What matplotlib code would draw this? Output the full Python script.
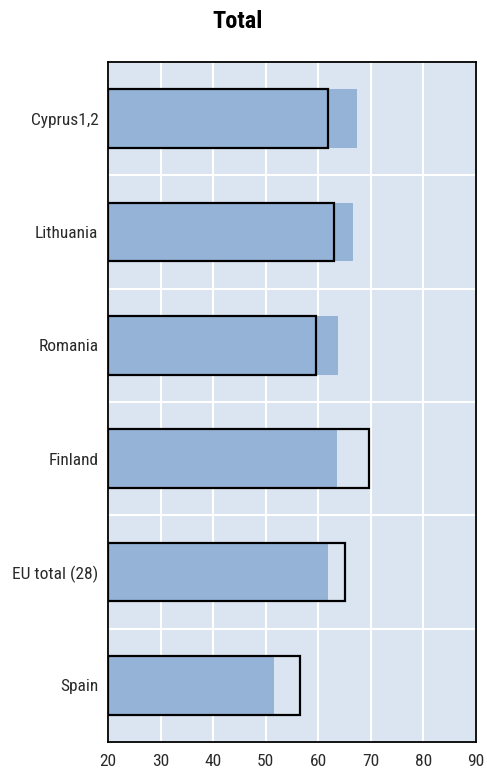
import matplotlib
matplotlib.use("Agg")
import matplotlib.pyplot as plt
import numpy as np

plt.rcParams['font.family'] = ['Roboto Condensed', 'Liberation Sans', 'DejaVu Sans']

categories = ["Cyprus1,2", "Lithuania", "Romania", "Finland", "EU total (28)", "Spain"]
filled_values = [67.4, 66.6, 63.75, 63.6, 61.8, 51.6]
outline_values = [61.8, 62.9, 59.6, 69.6, 65.0, 56.5]
x_ticks = [20, 30, 40, 50, 60, 70, 80, 90]
title = "Total"

W, H = 487, 772
fig = plt.figure(figsize=(W / 100, H / 100), dpi=100)
ax = fig.add_axes([108 / W, 1 - 742 / H, (476 - 108) / W, (742 - 62) / H])
ax.set_facecolor('#DBE5F1')

y = np.arange(len(categories))
left = x_ticks[0]
ax.barh(y, np.array(filled_values) - left, left=left, height=0.52,
        color='#95B3D7', edgecolor='none', zorder=2)
ax.barh(y, np.array(outline_values) - left, left=left, height=0.52,
        facecolor='none', edgecolor='black', linewidth=1.6, zorder=3)

ax.set_xlim(x_ticks[0], x_ticks[-1])
ax.set_ylim(len(categories) - 0.5, -0.5)
ax.set_xticks(x_ticks)
ax.set_xticklabels([str(t) for t in x_ticks])
ax.set_yticks(y)
ax.set_yticklabels(categories)
ax.set_yticks(np.arange(len(categories) + 1) - 0.5, minor=True)

ax.grid(True, axis='x', which='major', color='white', linewidth=1.5, zorder=1)
ax.grid(True, axis='y', which='minor', color='white', linewidth=1.5, zorder=1)
ax.set_axisbelow(True)

ax.tick_params(axis='both', which='both', length=0)
ax.tick_params(axis='y', pad=7, labelsize=12.5, labelcolor='#2a2a2a')
ax.tick_params(axis='x', pad=9, labelsize=12.5, labelcolor='#2a2a2a')

for s in ax.spines.values():
    s.set_color('black')
    s.set_linewidth(1.3)

fig.text(238 / W, 1 - 22 / H, title, ha='center', va='center',
         fontsize=17.5, fontweight='bold', color='black')

fig.savefig('out.png', dpi=100)
